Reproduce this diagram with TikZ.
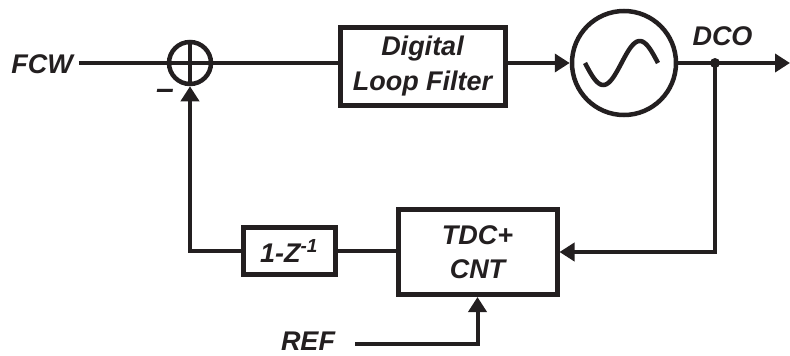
\documentclass[tikz,border=0pt]{standalone}
\usepackage{fontspec}
\setmainfont{Liberation Sans}
\usetikzlibrary{arrows.meta}

\definecolor{ink}{RGB}{35,31,32}

\tikzset{
  txt/.style={font=\bfseries\itshape\fontsize{27}{34.5}\selectfont, inner sep=2pt, text=ink},
  blockbox/.style={draw=ink, line width=5pt, rectangle, txt, align=center, inner sep=0pt},
  ring/.style={draw=ink, line width=4.5pt, circle, inner sep=0pt},
  wire/.style={draw=ink, line width=4pt},
  arrowwire/.style={wire, -{Triangle[length=15pt,width=18pt]}},
}

\begin{document}
\begin{tikzpicture}[x=1pt, y=-1pt]
  \useasboundingbox (0,0) rectangle (790,356);

  % summing junction
  \node[ring, minimum size=42pt] (sum) at (190,63) {};
  \draw[wire] (sum.north) -- (sum.south);
  \draw[wire] (sum.west) -- (sum.east);
  \node[txt, font=\bfseries\itshape\fontsize{32}{34}\selectfont] (minus) at (165,94) {–};

  % forward path blocks
  \node[blockbox, minimum width=165pt, minimum height=78pt] (dlf) at (422.5,66) {Digital\\Loop Filter};
  \node[ring, minimum size=104pt] (dco) at (624,63) {};
  % sine symbol: trough on the left, crest on the right
  \draw[line width=4.5pt, draw=ink]
    plot[domain=0:360, samples=72, smooth] ({585 + \x/360*73}, {63 + 22*sin(\x)});

  % feedback blocks
  \node[blockbox, minimum width=159pt, minimum height=85pt] (tdc) at (477.5,252) {TDC+\\CNT};
  \node[blockbox, minimum width=92pt, minimum height=47pt] (zbox) at (289,251) {1-Z\textsuperscript{-1}};

  % labels
  \node[txt] (fcw) at (42,64) {FCW};
  \node[txt] (dcol) at (722.5,36) {DCO};
  \node[txt] (ref) at (308,341) {REF};

  % tap point and output
  \coordinate (tap) at (715,63);
  \coordinate (out) at (790,63);
  \fill[ink] (tap) circle (5pt);

  % connections
  \draw[wire, shorten <=4pt] (fcw.east |- sum.west) -- (sum.west);
  \draw[wire] (sum.east) -- (sum.east -| dlf.west);
  \draw[arrowwire] (sum.east -| dlf.east) -- (dco.west);
  \draw[wire] (dco.east) -- (tap);
  \draw[arrowwire] (tap) -- (out);
  \draw[arrowwire] (tap) |- (tdc.east);
  \draw[wire] (zbox.east) -- (zbox.east -| tdc.west);
  \draw[arrowwire] (zbox.west) -| (sum.south);
  \draw[arrowwire, shorten <=18pt] (ref.east |- 0,344) -| (tdc.south);
\end{tikzpicture}
\end{document}
